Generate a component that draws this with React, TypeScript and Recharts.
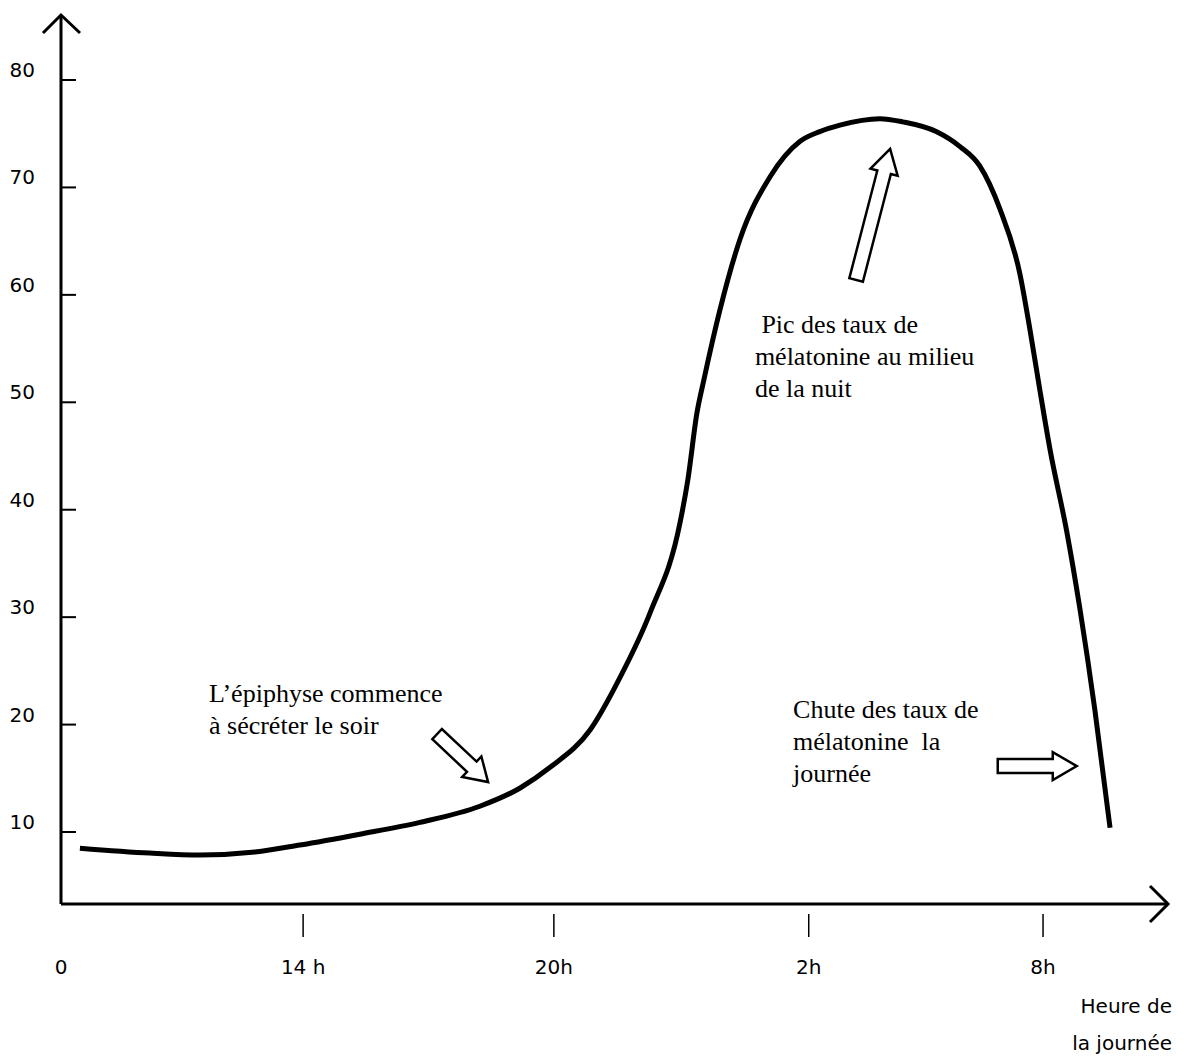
import React from "react";
import { LineChart, Line, XAxis, YAxis, ReferenceDot } from "recharts";

// Hours (time axis, origin at ~8h of day 1) and melatonin level
const hours = [8.57, 10.27, 11.49, 12.83, 13.92, 15.38, 16.84, 18.3, 19.28, 20.0, 20.98, 21.71, 22.44, 23.17, 23.36, 23.58, 23.75, 24.14, 24.63, 25.36, 26.09, 26.57, 27.06, 28.03, 28.59, 29.4, 29.98, 30.46, 30.95, 31.44, 31.68, 31.92, 32.17, 32.58, 32.9, 33.26, 33.63];
const melatonin = [8.5, 8.04, 7.86, 8.14, 8.79, 9.8, 10.9, 12.4, 14.1, 16.0, 19.5, 24.4, 30.4, 38.8, 42.8, 49.0, 52.1, 58.6, 65.2, 71.0, 74.3, 75.2, 75.8, 76.4, 76.1, 75.2, 73.8, 72.0, 68.0, 61.9, 56.8, 51.2, 45.6, 37.9, 30.7, 21.4, 10.4];

const xDomain = [8.11, 35.04];
const yDomain = [3.3, 86.05];

const yTicks = [10, 20, 30, 40, 50, 60, 70, 80];
const xTickValues = [8.11, 14, 20.1, 26.3, 32];
const xTickLabels = ["0", "14 h", "20h", "2h", "8h"];

const axisTitleLines = ["Heure de", "la journée"];

const noteX = [11.71, 24.99, 25.92];
const noteY = [22.1, 56.45, 20.61];
const noteLines = [
  ["L\u2019épiphyse commence", "à sécréter le soir"],
  ["\u00a0Pic des taux de", "mélatonine au milieu", "de la nuit"],
  ["Chute des taux de", "mélatonine\u00a0 la", "journée"],
];

const arrowTipX = [18.5, 28.28, 32.82];
const arrowTipY = [14.65, 73.58, 16.14];
// direction from tail to tip in screen space (pixels)
const arrowVec = [
  [51, 48],
  [34, -131],
  [79, 0],
];

const data = hours.map((h, i) => ({ h, v: melatonin[i] }));

const AXIS_FONT = "'DejaVu Sans', Verdana, sans-serif";
const NOTE_FONT = "'Liberation Serif', 'Times New Roman', serif";

const YTick = (props: any) => {
  const { x, y, payload } = props;
  const ax = 61;
  return (
    <g>
      <line x1={ax + 1} x2={ax + 15} y1={y} y2={y} stroke="#000" strokeWidth={2} />
      <text
        x={ax - 26}
        y={y - 10}
        textAnchor="end"
        dominantBaseline="central"
        fontFamily={AXIS_FONT}
        fontSize={20}
        fill="#000"
      >
        {payload.value}
      </text>
    </g>
  );
};

const XTick = (props: any) => {
  const { x, payload, index } = props;
  const ay = 905;
  const label = xTickLabels[index];
  return (
    <g>
      {index > 0 && <line x1={x} x2={x} y1={ay + 9} y2={ay + 32} stroke="#000" strokeWidth={1.5} />}
      <text
        x={x}
        y={ay + 62}
        textAnchor="middle"
        dominantBaseline="central"
        fontFamily={AXIS_FONT}
        fontSize={20}
        fill="#000"
      >
        {label}
      </text>
    </g>
  );
};

const BlockArrow = (vx: number, vy: number) => (props: any) => {
  const { cx, cy } = props;
  if (cx == null || cy == null) return <g />;
  const len = Math.hypot(vx, vy);
  const ux = vx / len;
  const uy = vy / len;
  const px = -uy;
  const py = ux;
  const headLen = Math.min(24, len * 0.32);
  const headHalf = 14;
  const shaftHalf = 7;
  const bx = cx - ux * headLen;
  const by = cy - uy * headLen;
  const tx = cx - ux * len;
  const ty = cy - uy * len;
  const pts = [
    [tx + px * shaftHalf, ty + py * shaftHalf],
    [bx + px * shaftHalf, by + py * shaftHalf],
    [bx + px * headHalf, by + py * headHalf],
    [cx, cy],
    [bx - px * headHalf, by - py * headHalf],
    [bx - px * shaftHalf, by - py * shaftHalf],
    [tx - px * shaftHalf, ty - py * shaftHalf],
  ]
    .map((p) => p.join(","))
    .join(" ");
  return <polygon points={pts} fill="#fff" stroke="#000" strokeWidth={2.5} strokeLinejoin="miter" />;
};

const NoteShape = (lines: string[]) => (props: any) => {
  const { cx, cy } = props;
  if (cx == null || cy == null) return <g />;
  return (
    <text x={cx} y={cy} fontFamily={NOTE_FONT} fontSize={26} fill="#000">
      {lines.map((l, i) => (
        <tspan key={i} x={cx} dy={i === 0 ? 0 : 32}>
          {l}
        </tspan>
      ))}
    </text>
  );
};

const YArrowHead = (props: any) => {
  const { cx, cy } = props;
  if (cx == null || cy == null) return <g />;
  return (
    <polyline
      points={`${cx - 18},${cy + 18} ${cx},${cy} ${cx + 19},${cy + 18}`}
      fill="none"
      stroke="#000"
      strokeWidth={3}
    />
  );
};

const XArrowHead = (props: any) => {
  const { cx, cy } = props;
  if (cx == null || cy == null) return <g />;
  return (
    <g>
      <polyline
        points={`${cx - 18},${cy - 18} ${cx},${cy} ${cx - 18},${cy + 18}`}
        fill="none"
        stroke="#000"
        strokeWidth={3}
      />
      <text
        x={cx + 4}
        y={cy + 102}
        textAnchor="end"
        dominantBaseline="central"
        fontFamily={AXIS_FONT}
        fontSize={20}
        fill="#000"
      >
        {axisTitleLines.map((l, i) => (
          <tspan key={i} x={cx + 4} dy={i === 0 ? 0 : 37}>
            {l}
          </tspan>
        ))}
      </text>
    </g>
  );
};

export default function App() {
  return (
    <div style={{ position: "absolute", left: 0, top: 0, background: "#fff" }}>
      <LineChart
        width={1189}
        height={1056}
        data={data}
        margin={{ top: 15, right: 21, bottom: 151, left: 60 }}
      >
        <XAxis
          dataKey="h"
          type="number"
          domain={xDomain}
          allowDataOverflow
          ticks={xTickValues}
          tick={<XTick />}
          tickLine={false}
          axisLine={{ stroke: "#000", strokeWidth: 3 }}
          height={1}
          interval={0}
        />
        <YAxis
          dataKey="v"
          type="number"
          domain={yDomain}
          allowDataOverflow
          ticks={yTicks}
          tick={<YTick />}
          tickLine={false}
          axisLine={{ stroke: "#000", strokeWidth: 3 }}
          width={1}
          interval={0}
        />
        <Line
          type="monotone"
          dataKey="v"
          stroke="#000"
          strokeWidth={5}
          dot={false}
          isAnimationActive={false}
        />
        <ReferenceDot x={xDomain[0]} y={yDomain[1]} r={0} ifOverflow="visible" shape={YArrowHead} />
        <ReferenceDot x={xDomain[1]} y={yDomain[0]} r={0} ifOverflow="visible" shape={XArrowHead} />
        {noteLines.map((lines, i) => (
          <ReferenceDot
            key={"n" + i}
            x={noteX[i]}
            y={noteY[i]}
            r={0}
            ifOverflow="visible"
            shape={NoteShape(lines)}
          />
        ))}
        {arrowVec.map((v, i) => (
          <ReferenceDot
            key={"a" + i}
            x={arrowTipX[i]}
            y={arrowTipY[i]}
            r={0}
            ifOverflow="visible"
            shape={BlockArrow(v[0], v[1])}
          />
        ))}
      </LineChart>
    </div>
  );
}
